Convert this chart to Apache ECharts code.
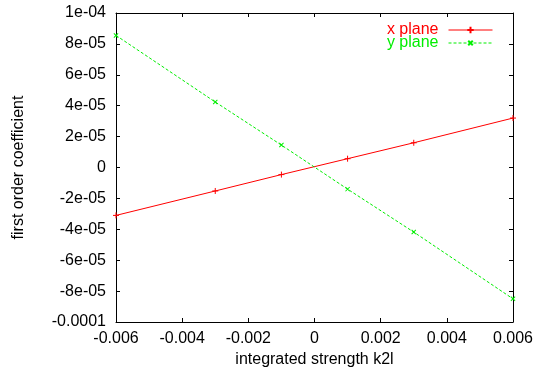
<!DOCTYPE html>
<html>
<head>
<meta charset="utf-8">
<script src="https://cdn.jsdelivr.net/npm/echarts@6/dist/echarts.min.js"></script>
<style>html,body{margin:0;padding:0;background:#fff;}#c{width:537px;height:377px;}</style>
</head>
<body>
<div id="c"></div>
<script>
const xValues = [-0.006, -0.003, -0.001, 0.001, 0.003, 0.006];
const xPlane = [-3.1e-5, -1.52e-5, -4.6e-6, 5.7e-6, 1.6e-5, 3.2e-5];
const yPlane = [8.55e-5, 4.24e-5, 1.45e-5, -1.4e-5, -4.18e-5, -8.5e-5];
const xTickLabels = ['-0.006', '-0.004', '-0.002', '0', '0.002', '0.004', '0.006'];
const yTickLabels = ['-0.0001', '-8e-05', '-6e-05', '-4e-05', '-2e-05', '0', '2e-05', '4e-05', '6e-05', '8e-05', '1e-04'];
const seriesNames = ['x plane', 'y plane'];

const FONT = '"Liberation Sans", Arial, sans-serif';
const chart = echarts.init(document.getElementById('c'), null, {renderer: 'canvas'});
const plusPath = 'path://M0,5L10,5M5,0L5,10';
const axisLine = {show: true, onZero: false, lineStyle: {color: '#000', width: 1}};
const tick = {show: true, inside: true, length: 4, lineStyle: {color: '#000'}};
chart.setOption({
  animation: false,
  backgroundColor: '#fff',
  grid: {left: 116, right: 24, top: 13, bottom: 55},
  legend: {
    orient: 'vertical', right: 39, top: 17, align: 'right',
    itemWidth: 44, itemHeight: 8, itemGap: -3,
    lineStyle: {width: 1},
    textStyle: {fontFamily: FONT, fontSize: 16, padding: [0, 5, 0, 0]},
    data: [
      {name: seriesNames[0], textStyle: {color: '#ff0000'}},
      {name: seriesNames[1], textStyle: {color: '#00ee00'}}
    ]
  },
  xAxis: [{
    type: 'value', min: -0.006, max: 0.006, interval: 0.002,
    name: 'integrated strength k2l', nameLocation: 'middle', nameGap: 29,
    nameTextStyle: {fontFamily: FONT, fontSize: 16, color: '#000'},
    axisLine: axisLine, axisTick: tick, splitLine: {show: false},
    axisLabel: {fontFamily: FONT, fontSize: 16, color: '#000', margin: 9,
      formatter: (v, i) => xTickLabels[i]}
  }, {
    type: 'value', position: 'top', min: -0.006, max: 0.006, interval: 0.002,
    axisLine: axisLine, axisTick: tick, splitLine: {show: false}, axisLabel: {show: false}
  }],
  yAxis: [{
    type: 'value', min: -0.0001, max: 0.0001, interval: 0.00002,
    name: 'first order coefficient', nameLocation: 'middle', nameGap: 89,
    nameTextStyle: {fontFamily: FONT, fontSize: 16, color: '#000'},
    axisLine: axisLine, axisTick: tick, splitLine: {show: false},
    axisLabel: {fontFamily: FONT, fontSize: 16, color: '#000', margin: 10,
      formatter: (v, i) => yTickLabels[i]}
  }, {
    type: 'value', position: 'right', min: -0.0001, max: 0.0001, interval: 0.00002,
    axisLine: axisLine, axisTick: tick, splitLine: {show: false}, axisLabel: {show: false}
  }],
  series: [{
    name: seriesNames[0], type: 'line',
    data: xValues.map((x, i) => [x, xPlane[i]]),
    symbol: plusPath, symbolSize: 6, showSymbol: true,
    lineStyle: {color: '#ff0000', width: 1},
    itemStyle: {color: '#ff0000', borderColor: '#ff0000', borderWidth: 1}
  }, {
    name: seriesNames[1], type: 'line',
    data: xValues.map((x, i) => [x, yPlane[i]]),
    symbol: plusPath, symbolRotate: 45, symbolSize: 6, showSymbol: true,
    lineStyle: {color: '#00ee00', width: 1, type: [3, 2]},
    itemStyle: {color: '#00ee00', borderColor: '#00ee00', borderWidth: 1}
  }]
});
</script>
</body>
</html>
